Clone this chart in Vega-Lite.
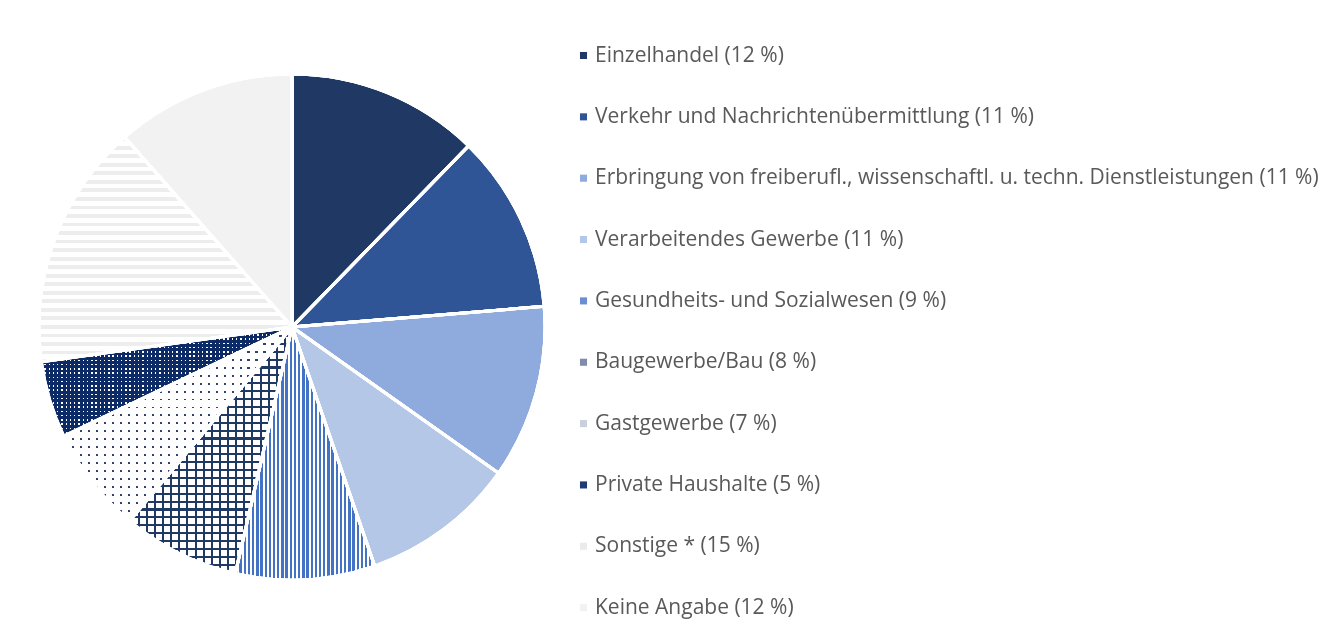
{
  "$schema": "https://vega.github.io/schema/vega-lite/v6.json",
  "width": 578,
  "height": 614,
  "padding": {"left": 3, "top": 20, "right": 0, "bottom": 0},
  "background": "white",
  "config": {"view": {"stroke": null}},
  "data": {
    "values": [
      {"rang": 1, "label": "Einzelhandel (12 %)", "anteil": 12.3},
      {"rang": 2, "label": "Verkehr und Nachrichtenübermittlung (11 %)", "anteil": 11.4},
      {"rang": 3, "label": "Erbringung von freiberufl., wissenschaftl. u. techn. Dienstleistungen (11 %)", "anteil": 11.1},
      {"rang": 4, "label": "Verarbeitendes Gewerbe (11 %)", "anteil": 9.9},
      {"rang": 5, "label": "Gesundheits- und Sozialwesen (9 %)", "anteil": 8.9},
      {"rang": 6, "label": "Baugewerbe/Bau (8 %)", "anteil": 7.5},
      {"rang": 7, "label": "Gastgewerbe (7 %)", "anteil": 6.8},
      {"rang": 8, "label": "Private Haushalte (5 %)", "anteil": 4.9},
      {"rang": 9, "label": "Sonstige * (15 %)", "anteil": 15.7},
      {"rang": 10, "label": "Keine Angabe (12 %)", "anteil": 11.5}
    ]
  },
  "layer": [
    {
      "mark": {"type": "arc", "outerRadius": 253, "stroke": "white", "strokeWidth": 3},
      "encoding": {
        "theta": {"field": "anteil", "type": "quantitative", "stack": true},
        "order": {"field": "rang", "type": "quantitative"},
        "color": {
          "field": "label",
          "type": "nominal",
          "scale": {
            "domain": [
              "Einzelhandel (12 %)",
              "Verkehr und Nachrichtenübermittlung (11 %)",
              "Erbringung von freiberufl., wissenschaftl. u. techn. Dienstleistungen (11 %)",
              "Verarbeitendes Gewerbe (11 %)",
              "Gesundheits- und Sozialwesen (9 %)",
              "Baugewerbe/Bau (8 %)",
              "Gastgewerbe (7 %)",
              "Private Haushalte (5 %)",
              "Sonstige * (15 %)",
              "Keine Angabe (12 %)"
            ],
            "range": ["#1F3864", "#2F5597", "#8FAADC", "#B4C7E7", "#6A8ED0", "#7F8DAA", "#C9D0DD", "#1F3B73", "#EBEBEB", "#F2F2F2"]
          },
          "legend": {
            "title": null,
            "orient": "none",
            "legendX": 570,
            "legendY": 25,
            "padding": 0,
            "symbolType": "square",
            "symbolSize": 50,
            "symbolStrokeWidth": 0,
            "labelFont": "Open Sans",
            "labelFontSize": 21,
            "labelColor": "#595959",
            "labelLimit": 900,
            "labelOffset": 1,
            "rowPadding": 39.35
          },
          "condition": [
            {
              "test": "datum.rang === 5",
              "value": {
                "gradient": "linear", "x1": 0, "y1": 0, "x2": 1, "y2": 0,
                "stops": [
                  {"offset": 0, "color": "#4472C4"}, {"offset": 0.017, "color": "#4472C4"}, {"offset": 0.017, "color": "#FFFFFF"}, {"offset": 0.03, "color": "#FFFFFF"},
                  {"offset": 0.03, "color": "#4472C4"}, {"offset": 0.047, "color": "#4472C4"}, {"offset": 0.047, "color": "#FFFFFF"}, {"offset": 0.06, "color": "#FFFFFF"},
                  {"offset": 0.06, "color": "#4472C4"}, {"offset": 0.077, "color": "#4472C4"}, {"offset": 0.077, "color": "#FFFFFF"}, {"offset": 0.09, "color": "#FFFFFF"},
                  {"offset": 0.09, "color": "#4472C4"}, {"offset": 0.107, "color": "#4472C4"}, {"offset": 0.107, "color": "#FFFFFF"}, {"offset": 0.12, "color": "#FFFFFF"},
                  {"offset": 0.12, "color": "#4472C4"}, {"offset": 0.137, "color": "#4472C4"}, {"offset": 0.137, "color": "#FFFFFF"}, {"offset": 0.15, "color": "#FFFFFF"},
                  {"offset": 0.15, "color": "#4472C4"}, {"offset": 0.167, "color": "#4472C4"}, {"offset": 0.167, "color": "#FFFFFF"}, {"offset": 0.18, "color": "#FFFFFF"},
                  {"offset": 0.18, "color": "#4472C4"}, {"offset": 0.197, "color": "#4472C4"}, {"offset": 0.197, "color": "#FFFFFF"}, {"offset": 0.21, "color": "#FFFFFF"},
                  {"offset": 0.21, "color": "#4472C4"}, {"offset": 0.227, "color": "#4472C4"}, {"offset": 0.227, "color": "#FFFFFF"}, {"offset": 0.24, "color": "#FFFFFF"},
                  {"offset": 0.24, "color": "#4472C4"}, {"offset": 0.257, "color": "#4472C4"}, {"offset": 0.257, "color": "#FFFFFF"}, {"offset": 0.27, "color": "#FFFFFF"},
                  {"offset": 0.27, "color": "#4472C4"}, {"offset": 0.287, "color": "#4472C4"}, {"offset": 0.287, "color": "#FFFFFF"}, {"offset": 0.30, "color": "#FFFFFF"},
                  {"offset": 0.30, "color": "#4472C4"}, {"offset": 0.317, "color": "#4472C4"}, {"offset": 0.317, "color": "#FFFFFF"}, {"offset": 0.33, "color": "#FFFFFF"},
                  {"offset": 0.33, "color": "#4472C4"}, {"offset": 0.347, "color": "#4472C4"}, {"offset": 0.347, "color": "#FFFFFF"}, {"offset": 0.36, "color": "#FFFFFF"},
                  {"offset": 0.36, "color": "#4472C4"}, {"offset": 0.377, "color": "#4472C4"}, {"offset": 0.377, "color": "#FFFFFF"}, {"offset": 0.39, "color": "#FFFFFF"},
                  {"offset": 0.39, "color": "#4472C4"}, {"offset": 0.407, "color": "#4472C4"}, {"offset": 0.407, "color": "#FFFFFF"}, {"offset": 0.42, "color": "#FFFFFF"},
                  {"offset": 0.42, "color": "#4472C4"}, {"offset": 0.437, "color": "#4472C4"}, {"offset": 0.437, "color": "#FFFFFF"}, {"offset": 0.45, "color": "#FFFFFF"},
                  {"offset": 0.45, "color": "#4472C4"}, {"offset": 0.467, "color": "#4472C4"}, {"offset": 0.467, "color": "#FFFFFF"}, {"offset": 0.48, "color": "#FFFFFF"},
                  {"offset": 0.48, "color": "#4472C4"}, {"offset": 0.497, "color": "#4472C4"}, {"offset": 0.497, "color": "#FFFFFF"}, {"offset": 0.51, "color": "#FFFFFF"},
                  {"offset": 0.51, "color": "#4472C4"}, {"offset": 0.527, "color": "#4472C4"}, {"offset": 0.527, "color": "#FFFFFF"}, {"offset": 0.54, "color": "#FFFFFF"},
                  {"offset": 0.54, "color": "#4472C4"}, {"offset": 0.557, "color": "#4472C4"}, {"offset": 0.557, "color": "#FFFFFF"}, {"offset": 0.57, "color": "#FFFFFF"},
                  {"offset": 0.57, "color": "#4472C4"}, {"offset": 0.587, "color": "#4472C4"}, {"offset": 0.587, "color": "#FFFFFF"}, {"offset": 0.60, "color": "#FFFFFF"},
                  {"offset": 0.60, "color": "#4472C4"}, {"offset": 0.617, "color": "#4472C4"}, {"offset": 0.617, "color": "#FFFFFF"}, {"offset": 0.63, "color": "#FFFFFF"},
                  {"offset": 0.63, "color": "#4472C4"}, {"offset": 0.647, "color": "#4472C4"}, {"offset": 0.647, "color": "#FFFFFF"}, {"offset": 0.66, "color": "#FFFFFF"},
                  {"offset": 0.66, "color": "#4472C4"}, {"offset": 0.677, "color": "#4472C4"}, {"offset": 0.677, "color": "#FFFFFF"}, {"offset": 0.69, "color": "#FFFFFF"},
                  {"offset": 0.69, "color": "#4472C4"}, {"offset": 0.707, "color": "#4472C4"}, {"offset": 0.707, "color": "#FFFFFF"}, {"offset": 0.72, "color": "#FFFFFF"},
                  {"offset": 0.72, "color": "#4472C4"}, {"offset": 0.737, "color": "#4472C4"}, {"offset": 0.737, "color": "#FFFFFF"}, {"offset": 0.75, "color": "#FFFFFF"},
                  {"offset": 0.75, "color": "#4472C4"}, {"offset": 0.767, "color": "#4472C4"}, {"offset": 0.767, "color": "#FFFFFF"}, {"offset": 0.78, "color": "#FFFFFF"},
                  {"offset": 0.78, "color": "#4472C4"}, {"offset": 0.797, "color": "#4472C4"}, {"offset": 0.797, "color": "#FFFFFF"}, {"offset": 0.81, "color": "#FFFFFF"},
                  {"offset": 0.81, "color": "#4472C4"}, {"offset": 0.827, "color": "#4472C4"}, {"offset": 0.827, "color": "#FFFFFF"}, {"offset": 0.84, "color": "#FFFFFF"},
                  {"offset": 0.84, "color": "#4472C4"}, {"offset": 0.857, "color": "#4472C4"}, {"offset": 0.857, "color": "#FFFFFF"}, {"offset": 0.87, "color": "#FFFFFF"},
                  {"offset": 0.87, "color": "#4472C4"}, {"offset": 0.887, "color": "#4472C4"}, {"offset": 0.887, "color": "#FFFFFF"}, {"offset": 0.90, "color": "#FFFFFF"},
                  {"offset": 0.90, "color": "#4472C4"}, {"offset": 0.917, "color": "#4472C4"}, {"offset": 0.917, "color": "#FFFFFF"}, {"offset": 0.93, "color": "#FFFFFF"},
                  {"offset": 0.93, "color": "#4472C4"}, {"offset": 0.947, "color": "#4472C4"}, {"offset": 0.947, "color": "#FFFFFF"}, {"offset": 0.96, "color": "#FFFFFF"},
                  {"offset": 0.96, "color": "#4472C4"}, {"offset": 0.977, "color": "#4472C4"}, {"offset": 0.977, "color": "#FFFFFF"}, {"offset": 0.99, "color": "#FFFFFF"},
                  {"offset": 0.99, "color": "#4472C4"}, {"offset": 1, "color": "#4472C4"}
                ]
              }
            },
            {
              "test": "datum.rang === 6",
              "value": {
                "gradient": "linear", "x1": 0, "y1": 0, "x2": 1, "y2": 0,
                "stops": [
                  {"offset": 0, "color": "#1F3864"}, {"offset": 0.013, "color": "#1F3864"}, {"offset": 0.013, "color": "#FFFFFF"}, {"offset": 0.05, "color": "#FFFFFF"},
                  {"offset": 0.05, "color": "#1F3864"}, {"offset": 0.063, "color": "#1F3864"}, {"offset": 0.063, "color": "#FFFFFF"}, {"offset": 0.10, "color": "#FFFFFF"},
                  {"offset": 0.10, "color": "#1F3864"}, {"offset": 0.113, "color": "#1F3864"}, {"offset": 0.113, "color": "#FFFFFF"}, {"offset": 0.15, "color": "#FFFFFF"},
                  {"offset": 0.15, "color": "#1F3864"}, {"offset": 0.163, "color": "#1F3864"}, {"offset": 0.163, "color": "#FFFFFF"}, {"offset": 0.20, "color": "#FFFFFF"},
                  {"offset": 0.20, "color": "#1F3864"}, {"offset": 0.213, "color": "#1F3864"}, {"offset": 0.213, "color": "#FFFFFF"}, {"offset": 0.25, "color": "#FFFFFF"},
                  {"offset": 0.25, "color": "#1F3864"}, {"offset": 0.263, "color": "#1F3864"}, {"offset": 0.263, "color": "#FFFFFF"}, {"offset": 0.30, "color": "#FFFFFF"},
                  {"offset": 0.30, "color": "#1F3864"}, {"offset": 0.313, "color": "#1F3864"}, {"offset": 0.313, "color": "#FFFFFF"}, {"offset": 0.35, "color": "#FFFFFF"},
                  {"offset": 0.35, "color": "#1F3864"}, {"offset": 0.363, "color": "#1F3864"}, {"offset": 0.363, "color": "#FFFFFF"}, {"offset": 0.40, "color": "#FFFFFF"},
                  {"offset": 0.40, "color": "#1F3864"}, {"offset": 0.413, "color": "#1F3864"}, {"offset": 0.413, "color": "#FFFFFF"}, {"offset": 0.45, "color": "#FFFFFF"},
                  {"offset": 0.45, "color": "#1F3864"}, {"offset": 0.463, "color": "#1F3864"}, {"offset": 0.463, "color": "#FFFFFF"}, {"offset": 0.50, "color": "#FFFFFF"},
                  {"offset": 0.50, "color": "#1F3864"}, {"offset": 0.513, "color": "#1F3864"}, {"offset": 0.513, "color": "#FFFFFF"}, {"offset": 0.55, "color": "#FFFFFF"},
                  {"offset": 0.55, "color": "#1F3864"}, {"offset": 0.563, "color": "#1F3864"}, {"offset": 0.563, "color": "#FFFFFF"}, {"offset": 0.60, "color": "#FFFFFF"},
                  {"offset": 0.60, "color": "#1F3864"}, {"offset": 0.613, "color": "#1F3864"}, {"offset": 0.613, "color": "#FFFFFF"}, {"offset": 0.65, "color": "#FFFFFF"},
                  {"offset": 0.65, "color": "#1F3864"}, {"offset": 0.663, "color": "#1F3864"}, {"offset": 0.663, "color": "#FFFFFF"}, {"offset": 0.70, "color": "#FFFFFF"},
                  {"offset": 0.70, "color": "#1F3864"}, {"offset": 0.713, "color": "#1F3864"}, {"offset": 0.713, "color": "#FFFFFF"}, {"offset": 0.75, "color": "#FFFFFF"},
                  {"offset": 0.75, "color": "#1F3864"}, {"offset": 0.763, "color": "#1F3864"}, {"offset": 0.763, "color": "#FFFFFF"}, {"offset": 0.80, "color": "#FFFFFF"},
                  {"offset": 0.80, "color": "#1F3864"}, {"offset": 0.813, "color": "#1F3864"}, {"offset": 0.813, "color": "#FFFFFF"}, {"offset": 0.85, "color": "#FFFFFF"},
                  {"offset": 0.85, "color": "#1F3864"}, {"offset": 0.863, "color": "#1F3864"}, {"offset": 0.863, "color": "#FFFFFF"}, {"offset": 0.90, "color": "#FFFFFF"},
                  {"offset": 0.90, "color": "#1F3864"}, {"offset": 0.913, "color": "#1F3864"}, {"offset": 0.913, "color": "#FFFFFF"}, {"offset": 0.95, "color": "#FFFFFF"},
                  {"offset": 0.95, "color": "#1F3864"}, {"offset": 0.963, "color": "#1F3864"}, {"offset": 0.963, "color": "#FFFFFF"}, {"offset": 1, "color": "#FFFFFF"}
                ]
              }
            },
            {
              "test": "datum.rang === 7",
              "value": {
                "gradient": "linear", "x1": 0, "y1": 0, "x2": 1, "y2": 0,
                "stops": [
                  {"offset": 0, "color": "#2F4272"}, {"offset": 0.009, "color": "#2F4272"}, {"offset": 0.009, "color": "#FFFFFF"}, {"offset": 0.035, "color": "#FFFFFF"},
                  {"offset": 0.035, "color": "#2F4272"}, {"offset": 0.044, "color": "#2F4272"}, {"offset": 0.044, "color": "#FFFFFF"}, {"offset": 0.07, "color": "#FFFFFF"},
                  {"offset": 0.07, "color": "#2F4272"}, {"offset": 0.079, "color": "#2F4272"}, {"offset": 0.079, "color": "#FFFFFF"}, {"offset": 0.105, "color": "#FFFFFF"},
                  {"offset": 0.105, "color": "#2F4272"}, {"offset": 0.114, "color": "#2F4272"}, {"offset": 0.114, "color": "#FFFFFF"}, {"offset": 0.14, "color": "#FFFFFF"},
                  {"offset": 0.14, "color": "#2F4272"}, {"offset": 0.149, "color": "#2F4272"}, {"offset": 0.149, "color": "#FFFFFF"}, {"offset": 0.175, "color": "#FFFFFF"},
                  {"offset": 0.175, "color": "#2F4272"}, {"offset": 0.184, "color": "#2F4272"}, {"offset": 0.184, "color": "#FFFFFF"}, {"offset": 0.21, "color": "#FFFFFF"},
                  {"offset": 0.21, "color": "#2F4272"}, {"offset": 0.219, "color": "#2F4272"}, {"offset": 0.219, "color": "#FFFFFF"}, {"offset": 0.245, "color": "#FFFFFF"},
                  {"offset": 0.245, "color": "#2F4272"}, {"offset": 0.254, "color": "#2F4272"}, {"offset": 0.254, "color": "#FFFFFF"}, {"offset": 0.28, "color": "#FFFFFF"},
                  {"offset": 0.28, "color": "#2F4272"}, {"offset": 0.289, "color": "#2F4272"}, {"offset": 0.289, "color": "#FFFFFF"}, {"offset": 0.315, "color": "#FFFFFF"},
                  {"offset": 0.315, "color": "#2F4272"}, {"offset": 0.324, "color": "#2F4272"}, {"offset": 0.324, "color": "#FFFFFF"}, {"offset": 0.35, "color": "#FFFFFF"},
                  {"offset": 0.35, "color": "#2F4272"}, {"offset": 0.359, "color": "#2F4272"}, {"offset": 0.359, "color": "#FFFFFF"}, {"offset": 0.385, "color": "#FFFFFF"},
                  {"offset": 0.385, "color": "#2F4272"}, {"offset": 0.394, "color": "#2F4272"}, {"offset": 0.394, "color": "#FFFFFF"}, {"offset": 0.42, "color": "#FFFFFF"},
                  {"offset": 0.42, "color": "#2F4272"}, {"offset": 0.429, "color": "#2F4272"}, {"offset": 0.429, "color": "#FFFFFF"}, {"offset": 0.455, "color": "#FFFFFF"},
                  {"offset": 0.455, "color": "#2F4272"}, {"offset": 0.464, "color": "#2F4272"}, {"offset": 0.464, "color": "#FFFFFF"}, {"offset": 0.49, "color": "#FFFFFF"},
                  {"offset": 0.49, "color": "#2F4272"}, {"offset": 0.499, "color": "#2F4272"}, {"offset": 0.499, "color": "#FFFFFF"}, {"offset": 0.525, "color": "#FFFFFF"},
                  {"offset": 0.525, "color": "#2F4272"}, {"offset": 0.534, "color": "#2F4272"}, {"offset": 0.534, "color": "#FFFFFF"}, {"offset": 0.56, "color": "#FFFFFF"},
                  {"offset": 0.56, "color": "#2F4272"}, {"offset": 0.569, "color": "#2F4272"}, {"offset": 0.569, "color": "#FFFFFF"}, {"offset": 0.595, "color": "#FFFFFF"},
                  {"offset": 0.595, "color": "#2F4272"}, {"offset": 0.604, "color": "#2F4272"}, {"offset": 0.604, "color": "#FFFFFF"}, {"offset": 0.63, "color": "#FFFFFF"},
                  {"offset": 0.63, "color": "#2F4272"}, {"offset": 0.639, "color": "#2F4272"}, {"offset": 0.639, "color": "#FFFFFF"}, {"offset": 0.665, "color": "#FFFFFF"},
                  {"offset": 0.665, "color": "#2F4272"}, {"offset": 0.674, "color": "#2F4272"}, {"offset": 0.674, "color": "#FFFFFF"}, {"offset": 0.70, "color": "#FFFFFF"},
                  {"offset": 0.70, "color": "#2F4272"}, {"offset": 0.709, "color": "#2F4272"}, {"offset": 0.709, "color": "#FFFFFF"}, {"offset": 0.735, "color": "#FFFFFF"},
                  {"offset": 0.735, "color": "#2F4272"}, {"offset": 0.744, "color": "#2F4272"}, {"offset": 0.744, "color": "#FFFFFF"}, {"offset": 0.77, "color": "#FFFFFF"},
                  {"offset": 0.77, "color": "#2F4272"}, {"offset": 0.779, "color": "#2F4272"}, {"offset": 0.779, "color": "#FFFFFF"}, {"offset": 0.805, "color": "#FFFFFF"},
                  {"offset": 0.805, "color": "#2F4272"}, {"offset": 0.814, "color": "#2F4272"}, {"offset": 0.814, "color": "#FFFFFF"}, {"offset": 0.84, "color": "#FFFFFF"},
                  {"offset": 0.84, "color": "#2F4272"}, {"offset": 0.849, "color": "#2F4272"}, {"offset": 0.849, "color": "#FFFFFF"}, {"offset": 0.875, "color": "#FFFFFF"},
                  {"offset": 0.875, "color": "#2F4272"}, {"offset": 0.884, "color": "#2F4272"}, {"offset": 0.884, "color": "#FFFFFF"}, {"offset": 0.91, "color": "#FFFFFF"},
                  {"offset": 0.91, "color": "#2F4272"}, {"offset": 0.919, "color": "#2F4272"}, {"offset": 0.919, "color": "#FFFFFF"}, {"offset": 0.945, "color": "#FFFFFF"},
                  {"offset": 0.945, "color": "#2F4272"}, {"offset": 0.954, "color": "#2F4272"}, {"offset": 0.954, "color": "#FFFFFF"}, {"offset": 0.98, "color": "#FFFFFF"},
                  {"offset": 0.98, "color": "#2F4272"}, {"offset": 0.989, "color": "#2F4272"}, {"offset": 0.989, "color": "#FFFFFF"}, {"offset": 1, "color": "#FFFFFF"}
                ]
              }
            },
            {
              "test": "datum.rang === 8",
              "value": {
                "gradient": "linear", "x1": 0, "y1": 0, "x2": 1, "y2": 0,
                "stops": [
                  {"offset": 0, "color": "#0C2A66"}, {"offset": 0.0115, "color": "#0C2A66"}, {"offset": 0.0115, "color": "#FFFFFF"}, {"offset": 0.017, "color": "#FFFFFF"},
                  {"offset": 0.017, "color": "#0C2A66"}, {"offset": 0.0285, "color": "#0C2A66"}, {"offset": 0.0285, "color": "#FFFFFF"}, {"offset": 0.034, "color": "#FFFFFF"},
                  {"offset": 0.034, "color": "#0C2A66"}, {"offset": 0.0455, "color": "#0C2A66"}, {"offset": 0.0455, "color": "#FFFFFF"}, {"offset": 0.051, "color": "#FFFFFF"},
                  {"offset": 0.051, "color": "#0C2A66"}, {"offset": 0.0625, "color": "#0C2A66"}, {"offset": 0.0625, "color": "#FFFFFF"}, {"offset": 0.068, "color": "#FFFFFF"},
                  {"offset": 0.068, "color": "#0C2A66"}, {"offset": 0.0795, "color": "#0C2A66"}, {"offset": 0.0795, "color": "#FFFFFF"}, {"offset": 0.085, "color": "#FFFFFF"},
                  {"offset": 0.085, "color": "#0C2A66"}, {"offset": 0.0965, "color": "#0C2A66"}, {"offset": 0.0965, "color": "#FFFFFF"}, {"offset": 0.102, "color": "#FFFFFF"},
                  {"offset": 0.102, "color": "#0C2A66"}, {"offset": 0.1135, "color": "#0C2A66"}, {"offset": 0.1135, "color": "#FFFFFF"}, {"offset": 0.119, "color": "#FFFFFF"},
                  {"offset": 0.119, "color": "#0C2A66"}, {"offset": 0.1305, "color": "#0C2A66"}, {"offset": 0.1305, "color": "#FFFFFF"}, {"offset": 0.136, "color": "#FFFFFF"},
                  {"offset": 0.136, "color": "#0C2A66"}, {"offset": 0.1475, "color": "#0C2A66"}, {"offset": 0.1475, "color": "#FFFFFF"}, {"offset": 0.153, "color": "#FFFFFF"},
                  {"offset": 0.153, "color": "#0C2A66"}, {"offset": 0.1645, "color": "#0C2A66"}, {"offset": 0.1645, "color": "#FFFFFF"}, {"offset": 0.17, "color": "#FFFFFF"},
                  {"offset": 0.17, "color": "#0C2A66"}, {"offset": 0.1815, "color": "#0C2A66"}, {"offset": 0.1815, "color": "#FFFFFF"}, {"offset": 0.187, "color": "#FFFFFF"},
                  {"offset": 0.187, "color": "#0C2A66"}, {"offset": 0.1985, "color": "#0C2A66"}, {"offset": 0.1985, "color": "#FFFFFF"}, {"offset": 0.204, "color": "#FFFFFF"},
                  {"offset": 0.204, "color": "#0C2A66"}, {"offset": 0.2155, "color": "#0C2A66"}, {"offset": 0.2155, "color": "#FFFFFF"}, {"offset": 0.221, "color": "#FFFFFF"},
                  {"offset": 0.221, "color": "#0C2A66"}, {"offset": 0.2325, "color": "#0C2A66"}, {"offset": 0.2325, "color": "#FFFFFF"}, {"offset": 0.238, "color": "#FFFFFF"},
                  {"offset": 0.238, "color": "#0C2A66"}, {"offset": 0.2495, "color": "#0C2A66"}, {"offset": 0.2495, "color": "#FFFFFF"}, {"offset": 0.255, "color": "#FFFFFF"},
                  {"offset": 0.255, "color": "#0C2A66"}, {"offset": 0.2665, "color": "#0C2A66"}, {"offset": 0.2665, "color": "#FFFFFF"}, {"offset": 0.272, "color": "#FFFFFF"},
                  {"offset": 0.272, "color": "#0C2A66"}, {"offset": 0.2835, "color": "#0C2A66"}, {"offset": 0.2835, "color": "#FFFFFF"}, {"offset": 0.289, "color": "#FFFFFF"},
                  {"offset": 0.289, "color": "#0C2A66"}, {"offset": 0.3005, "color": "#0C2A66"}, {"offset": 0.3005, "color": "#FFFFFF"}, {"offset": 0.306, "color": "#FFFFFF"},
                  {"offset": 0.306, "color": "#0C2A66"}, {"offset": 0.3175, "color": "#0C2A66"}, {"offset": 0.3175, "color": "#FFFFFF"}, {"offset": 0.323, "color": "#FFFFFF"},
                  {"offset": 0.323, "color": "#0C2A66"}, {"offset": 0.3345, "color": "#0C2A66"}, {"offset": 0.3345, "color": "#FFFFFF"}, {"offset": 0.34, "color": "#FFFFFF"},
                  {"offset": 0.34, "color": "#0C2A66"}, {"offset": 0.3515, "color": "#0C2A66"}, {"offset": 0.3515, "color": "#FFFFFF"}, {"offset": 0.357, "color": "#FFFFFF"},
                  {"offset": 0.357, "color": "#0C2A66"}, {"offset": 0.3685, "color": "#0C2A66"}, {"offset": 0.3685, "color": "#FFFFFF"}, {"offset": 0.374, "color": "#FFFFFF"},
                  {"offset": 0.374, "color": "#0C2A66"}, {"offset": 0.3855, "color": "#0C2A66"}, {"offset": 0.3855, "color": "#FFFFFF"}, {"offset": 0.391, "color": "#FFFFFF"},
                  {"offset": 0.391, "color": "#0C2A66"}, {"offset": 0.4025, "color": "#0C2A66"}, {"offset": 0.4025, "color": "#FFFFFF"}, {"offset": 0.408, "color": "#FFFFFF"},
                  {"offset": 0.408, "color": "#0C2A66"}, {"offset": 0.4195, "color": "#0C2A66"}, {"offset": 0.4195, "color": "#FFFFFF"}, {"offset": 0.425, "color": "#FFFFFF"},
                  {"offset": 0.425, "color": "#0C2A66"}, {"offset": 0.4365, "color": "#0C2A66"}, {"offset": 0.4365, "color": "#FFFFFF"}, {"offset": 0.442, "color": "#FFFFFF"},
                  {"offset": 0.442, "color": "#0C2A66"}, {"offset": 0.4535, "color": "#0C2A66"}, {"offset": 0.4535, "color": "#FFFFFF"}, {"offset": 0.459, "color": "#FFFFFF"},
                  {"offset": 0.459, "color": "#0C2A66"}, {"offset": 0.4705, "color": "#0C2A66"}, {"offset": 0.4705, "color": "#FFFFFF"}, {"offset": 0.476, "color": "#FFFFFF"},
                  {"offset": 0.476, "color": "#0C2A66"}, {"offset": 0.4875, "color": "#0C2A66"}, {"offset": 0.4875, "color": "#FFFFFF"}, {"offset": 0.493, "color": "#FFFFFF"},
                  {"offset": 0.493, "color": "#0C2A66"}, {"offset": 0.5045, "color": "#0C2A66"}, {"offset": 0.5045, "color": "#FFFFFF"}, {"offset": 0.51, "color": "#FFFFFF"},
                  {"offset": 0.51, "color": "#0C2A66"}, {"offset": 0.5215, "color": "#0C2A66"}, {"offset": 0.5215, "color": "#FFFFFF"}, {"offset": 0.527, "color": "#FFFFFF"},
                  {"offset": 0.527, "color": "#0C2A66"}, {"offset": 0.5385, "color": "#0C2A66"}, {"offset": 0.5385, "color": "#FFFFFF"}, {"offset": 0.544, "color": "#FFFFFF"},
                  {"offset": 0.544, "color": "#0C2A66"}, {"offset": 0.5555, "color": "#0C2A66"}, {"offset": 0.5555, "color": "#FFFFFF"}, {"offset": 0.561, "color": "#FFFFFF"},
                  {"offset": 0.561, "color": "#0C2A66"}, {"offset": 0.5725, "color": "#0C2A66"}, {"offset": 0.5725, "color": "#FFFFFF"}, {"offset": 0.578, "color": "#FFFFFF"},
                  {"offset": 0.578, "color": "#0C2A66"}, {"offset": 0.5895, "color": "#0C2A66"}, {"offset": 0.5895, "color": "#FFFFFF"}, {"offset": 0.595, "color": "#FFFFFF"},
                  {"offset": 0.595, "color": "#0C2A66"}, {"offset": 0.6065, "color": "#0C2A66"}, {"offset": 0.6065, "color": "#FFFFFF"}, {"offset": 0.612, "color": "#FFFFFF"},
                  {"offset": 0.612, "color": "#0C2A66"}, {"offset": 0.6235, "color": "#0C2A66"}, {"offset": 0.6235, "color": "#FFFFFF"}, {"offset": 0.629, "color": "#FFFFFF"},
                  {"offset": 0.629, "color": "#0C2A66"}, {"offset": 0.6405, "color": "#0C2A66"}, {"offset": 0.6405, "color": "#FFFFFF"}, {"offset": 0.646, "color": "#FFFFFF"},
                  {"offset": 0.646, "color": "#0C2A66"}, {"offset": 0.6575, "color": "#0C2A66"}, {"offset": 0.6575, "color": "#FFFFFF"}, {"offset": 0.663, "color": "#FFFFFF"},
                  {"offset": 0.663, "color": "#0C2A66"}, {"offset": 0.6745, "color": "#0C2A66"}, {"offset": 0.6745, "color": "#FFFFFF"}, {"offset": 0.68, "color": "#FFFFFF"},
                  {"offset": 0.68, "color": "#0C2A66"}, {"offset": 0.6915, "color": "#0C2A66"}, {"offset": 0.6915, "color": "#FFFFFF"}, {"offset": 0.697, "color": "#FFFFFF"},
                  {"offset": 0.697, "color": "#0C2A66"}, {"offset": 0.7085, "color": "#0C2A66"}, {"offset": 0.7085, "color": "#FFFFFF"}, {"offset": 0.714, "color": "#FFFFFF"},
                  {"offset": 0.714, "color": "#0C2A66"}, {"offset": 0.7255, "color": "#0C2A66"}, {"offset": 0.7255, "color": "#FFFFFF"}, {"offset": 0.731, "color": "#FFFFFF"},
                  {"offset": 0.731, "color": "#0C2A66"}, {"offset": 0.7425, "color": "#0C2A66"}, {"offset": 0.7425, "color": "#FFFFFF"}, {"offset": 0.748, "color": "#FFFFFF"},
                  {"offset": 0.748, "color": "#0C2A66"}, {"offset": 0.7595, "color": "#0C2A66"}, {"offset": 0.7595, "color": "#FFFFFF"}, {"offset": 0.765, "color": "#FFFFFF"},
                  {"offset": 0.765, "color": "#0C2A66"}, {"offset": 0.7765, "color": "#0C2A66"}, {"offset": 0.7765, "color": "#FFFFFF"}, {"offset": 0.782, "color": "#FFFFFF"},
                  {"offset": 0.782, "color": "#0C2A66"}, {"offset": 0.7935, "color": "#0C2A66"}, {"offset": 0.7935, "color": "#FFFFFF"}, {"offset": 0.799, "color": "#FFFFFF"},
                  {"offset": 0.799, "color": "#0C2A66"}, {"offset": 0.8105, "color": "#0C2A66"}, {"offset": 0.8105, "color": "#FFFFFF"}, {"offset": 0.816, "color": "#FFFFFF"},
                  {"offset": 0.816, "color": "#0C2A66"}, {"offset": 0.8275, "color": "#0C2A66"}, {"offset": 0.8275, "color": "#FFFFFF"}, {"offset": 0.833, "color": "#FFFFFF"},
                  {"offset": 0.833, "color": "#0C2A66"}, {"offset": 0.8445, "color": "#0C2A66"}, {"offset": 0.8445, "color": "#FFFFFF"}, {"offset": 0.85, "color": "#FFFFFF"},
                  {"offset": 0.85, "color": "#0C2A66"}, {"offset": 0.8615, "color": "#0C2A66"}, {"offset": 0.8615, "color": "#FFFFFF"}, {"offset": 0.867, "color": "#FFFFFF"},
                  {"offset": 0.867, "color": "#0C2A66"}, {"offset": 0.8785, "color": "#0C2A66"}, {"offset": 0.8785, "color": "#FFFFFF"}, {"offset": 0.884, "color": "#FFFFFF"},
                  {"offset": 0.884, "color": "#0C2A66"}, {"offset": 0.8955, "color": "#0C2A66"}, {"offset": 0.8955, "color": "#FFFFFF"}, {"offset": 0.901, "color": "#FFFFFF"},
                  {"offset": 0.901, "color": "#0C2A66"}, {"offset": 0.9125, "color": "#0C2A66"}, {"offset": 0.9125, "color": "#FFFFFF"}, {"offset": 0.918, "color": "#FFFFFF"},
                  {"offset": 0.918, "color": "#0C2A66"}, {"offset": 0.9295, "color": "#0C2A66"}, {"offset": 0.9295, "color": "#FFFFFF"}, {"offset": 0.935, "color": "#FFFFFF"},
                  {"offset": 0.935, "color": "#0C2A66"}, {"offset": 0.9465, "color": "#0C2A66"}, {"offset": 0.9465, "color": "#FFFFFF"}, {"offset": 0.952, "color": "#FFFFFF"},
                  {"offset": 0.952, "color": "#0C2A66"}, {"offset": 0.9635, "color": "#0C2A66"}, {"offset": 0.9635, "color": "#FFFFFF"}, {"offset": 0.969, "color": "#FFFFFF"},
                  {"offset": 0.969, "color": "#0C2A66"}, {"offset": 0.9805, "color": "#0C2A66"}, {"offset": 0.9805, "color": "#FFFFFF"}, {"offset": 0.986, "color": "#FFFFFF"},
                  {"offset": 0.986, "color": "#0C2A66"}, {"offset": 0.9975, "color": "#0C2A66"}, {"offset": 0.9975, "color": "#FFFFFF"}, {"offset": 1, "color": "#FFFFFF"}
                ]
              }
            },
            {
              "test": "datum.rang === 9",
              "value": {
                "gradient": "linear", "x1": 0, "y1": 0, "x2": 0, "y2": 1,
                "stops": [
                  {"offset": 0, "color": "#EDEDED"}, {"offset": 0.017, "color": "#EDEDED"}, {"offset": 0.017, "color": "#FFFFFF"}, {"offset": 0.038, "color": "#FFFFFF"},
                  {"offset": 0.038, "color": "#EDEDED"}, {"offset": 0.055, "color": "#EDEDED"}, {"offset": 0.055, "color": "#FFFFFF"}, {"offset": 0.076, "color": "#FFFFFF"},
                  {"offset": 0.076, "color": "#EDEDED"}, {"offset": 0.093, "color": "#EDEDED"}, {"offset": 0.093, "color": "#FFFFFF"}, {"offset": 0.114, "color": "#FFFFFF"},
                  {"offset": 0.114, "color": "#EDEDED"}, {"offset": 0.131, "color": "#EDEDED"}, {"offset": 0.131, "color": "#FFFFFF"}, {"offset": 0.152, "color": "#FFFFFF"},
                  {"offset": 0.152, "color": "#EDEDED"}, {"offset": 0.169, "color": "#EDEDED"}, {"offset": 0.169, "color": "#FFFFFF"}, {"offset": 0.19, "color": "#FFFFFF"},
                  {"offset": 0.19, "color": "#EDEDED"}, {"offset": 0.207, "color": "#EDEDED"}, {"offset": 0.207, "color": "#FFFFFF"}, {"offset": 0.228, "color": "#FFFFFF"},
                  {"offset": 0.228, "color": "#EDEDED"}, {"offset": 0.245, "color": "#EDEDED"}, {"offset": 0.245, "color": "#FFFFFF"}, {"offset": 0.266, "color": "#FFFFFF"},
                  {"offset": 0.266, "color": "#EDEDED"}, {"offset": 0.283, "color": "#EDEDED"}, {"offset": 0.283, "color": "#FFFFFF"}, {"offset": 0.304, "color": "#FFFFFF"},
                  {"offset": 0.304, "color": "#EDEDED"}, {"offset": 0.321, "color": "#EDEDED"}, {"offset": 0.321, "color": "#FFFFFF"}, {"offset": 0.342, "color": "#FFFFFF"},
                  {"offset": 0.342, "color": "#EDEDED"}, {"offset": 0.359, "color": "#EDEDED"}, {"offset": 0.359, "color": "#FFFFFF"}, {"offset": 0.38, "color": "#FFFFFF"},
                  {"offset": 0.38, "color": "#EDEDED"}, {"offset": 0.397, "color": "#EDEDED"}, {"offset": 0.397, "color": "#FFFFFF"}, {"offset": 0.418, "color": "#FFFFFF"},
                  {"offset": 0.418, "color": "#EDEDED"}, {"offset": 0.435, "color": "#EDEDED"}, {"offset": 0.435, "color": "#FFFFFF"}, {"offset": 0.456, "color": "#FFFFFF"},
                  {"offset": 0.456, "color": "#EDEDED"}, {"offset": 0.473, "color": "#EDEDED"}, {"offset": 0.473, "color": "#FFFFFF"}, {"offset": 0.494, "color": "#FFFFFF"},
                  {"offset": 0.494, "color": "#EDEDED"}, {"offset": 0.511, "color": "#EDEDED"}, {"offset": 0.511, "color": "#FFFFFF"}, {"offset": 0.532, "color": "#FFFFFF"},
                  {"offset": 0.532, "color": "#EDEDED"}, {"offset": 0.549, "color": "#EDEDED"}, {"offset": 0.549, "color": "#FFFFFF"}, {"offset": 0.57, "color": "#FFFFFF"},
                  {"offset": 0.57, "color": "#EDEDED"}, {"offset": 0.587, "color": "#EDEDED"}, {"offset": 0.587, "color": "#FFFFFF"}, {"offset": 0.608, "color": "#FFFFFF"},
                  {"offset": 0.608, "color": "#EDEDED"}, {"offset": 0.625, "color": "#EDEDED"}, {"offset": 0.625, "color": "#FFFFFF"}, {"offset": 0.646, "color": "#FFFFFF"},
                  {"offset": 0.646, "color": "#EDEDED"}, {"offset": 0.663, "color": "#EDEDED"}, {"offset": 0.663, "color": "#FFFFFF"}, {"offset": 0.684, "color": "#FFFFFF"},
                  {"offset": 0.684, "color": "#EDEDED"}, {"offset": 0.701, "color": "#EDEDED"}, {"offset": 0.701, "color": "#FFFFFF"}, {"offset": 0.722, "color": "#FFFFFF"},
                  {"offset": 0.722, "color": "#EDEDED"}, {"offset": 0.739, "color": "#EDEDED"}, {"offset": 0.739, "color": "#FFFFFF"}, {"offset": 0.76, "color": "#FFFFFF"},
                  {"offset": 0.76, "color": "#EDEDED"}, {"offset": 0.777, "color": "#EDEDED"}, {"offset": 0.777, "color": "#FFFFFF"}, {"offset": 0.798, "color": "#FFFFFF"},
                  {"offset": 0.798, "color": "#EDEDED"}, {"offset": 0.815, "color": "#EDEDED"}, {"offset": 0.815, "color": "#FFFFFF"}, {"offset": 0.836, "color": "#FFFFFF"},
                  {"offset": 0.836, "color": "#EDEDED"}, {"offset": 0.853, "color": "#EDEDED"}, {"offset": 0.853, "color": "#FFFFFF"}, {"offset": 0.874, "color": "#FFFFFF"},
                  {"offset": 0.874, "color": "#EDEDED"}, {"offset": 0.891, "color": "#EDEDED"}, {"offset": 0.891, "color": "#FFFFFF"}, {"offset": 0.912, "color": "#FFFFFF"},
                  {"offset": 0.912, "color": "#EDEDED"}, {"offset": 0.929, "color": "#EDEDED"}, {"offset": 0.929, "color": "#FFFFFF"}, {"offset": 0.95, "color": "#FFFFFF"},
                  {"offset": 0.95, "color": "#EDEDED"}, {"offset": 0.967, "color": "#EDEDED"}, {"offset": 0.967, "color": "#FFFFFF"}, {"offset": 0.988, "color": "#FFFFFF"},
                  {"offset": 0.988, "color": "#EDEDED"}, {"offset": 1, "color": "#EDEDED"}
                ]
              }
            }
          ]
        }
      }
    },
    {
      "mark": {"type": "arc", "outerRadius": 253, "stroke": "white", "strokeWidth": 3},
      "encoding": {
        "theta": {"field": "anteil", "type": "quantitative", "stack": true},
        "order": {"field": "rang", "type": "quantitative"},
        "color": {
          "value": "transparent",
          "condition": [
            {
              "test": "datum.rang === 6",
              "value": {
                "gradient": "linear", "x1": 0, "y1": 0, "x2": 0, "y2": 1,
                "stops": [
                  {"offset": 0, "color": "#1F3864"}, {"offset": 0.0085, "color": "#1F3864"}, {"offset": 0.0085, "color": "rgba(255,255,255,0)"}, {"offset": 0.032, "color": "rgba(255,255,255,0)"},
                  {"offset": 0.032, "color": "#1F3864"}, {"offset": 0.0405, "color": "#1F3864"}, {"offset": 0.0405, "color": "rgba(255,255,255,0)"}, {"offset": 0.064, "color": "rgba(255,255,255,0)"},
                  {"offset": 0.064, "color": "#1F3864"}, {"offset": 0.0725, "color": "#1F3864"}, {"offset": 0.0725, "color": "rgba(255,255,255,0)"}, {"offset": 0.096, "color": "rgba(255,255,255,0)"},
                  {"offset": 0.096, "color": "#1F3864"}, {"offset": 0.1045, "color": "#1F3864"}, {"offset": 0.1045, "color": "rgba(255,255,255,0)"}, {"offset": 0.128, "color": "rgba(255,255,255,0)"},
                  {"offset": 0.128, "color": "#1F3864"}, {"offset": 0.1365, "color": "#1F3864"}, {"offset": 0.1365, "color": "rgba(255,255,255,0)"}, {"offset": 0.16, "color": "rgba(255,255,255,0)"},
                  {"offset": 0.16, "color": "#1F3864"}, {"offset": 0.1685, "color": "#1F3864"}, {"offset": 0.1685, "color": "rgba(255,255,255,0)"}, {"offset": 0.192, "color": "rgba(255,255,255,0)"},
                  {"offset": 0.192, "color": "#1F3864"}, {"offset": 0.2005, "color": "#1F3864"}, {"offset": 0.2005, "color": "rgba(255,255,255,0)"}, {"offset": 0.224, "color": "rgba(255,255,255,0)"},
                  {"offset": 0.224, "color": "#1F3864"}, {"offset": 0.2325, "color": "#1F3864"}, {"offset": 0.2325, "color": "rgba(255,255,255,0)"}, {"offset": 0.256, "color": "rgba(255,255,255,0)"},
                  {"offset": 0.256, "color": "#1F3864"}, {"offset": 0.2645, "color": "#1F3864"}, {"offset": 0.2645, "color": "rgba(255,255,255,0)"}, {"offset": 0.288, "color": "rgba(255,255,255,0)"},
                  {"offset": 0.288, "color": "#1F3864"}, {"offset": 0.2965, "color": "#1F3864"}, {"offset": 0.2965, "color": "rgba(255,255,255,0)"}, {"offset": 0.32, "color": "rgba(255,255,255,0)"},
                  {"offset": 0.32, "color": "#1F3864"}, {"offset": 0.3285, "color": "#1F3864"}, {"offset": 0.3285, "color": "rgba(255,255,255,0)"}, {"offset": 0.352, "color": "rgba(255,255,255,0)"},
                  {"offset": 0.352, "color": "#1F3864"}, {"offset": 0.3605, "color": "#1F3864"}, {"offset": 0.3605, "color": "rgba(255,255,255,0)"}, {"offset": 0.384, "color": "rgba(255,255,255,0)"},
                  {"offset": 0.384, "color": "#1F3864"}, {"offset": 0.3925, "color": "#1F3864"}, {"offset": 0.3925, "color": "rgba(255,255,255,0)"}, {"offset": 0.416, "color": "rgba(255,255,255,0)"},
                  {"offset": 0.416, "color": "#1F3864"}, {"offset": 0.4245, "color": "#1F3864"}, {"offset": 0.4245, "color": "rgba(255,255,255,0)"}, {"offset": 0.448, "color": "rgba(255,255,255,0)"},
                  {"offset": 0.448, "color": "#1F3864"}, {"offset": 0.4565, "color": "#1F3864"}, {"offset": 0.4565, "color": "rgba(255,255,255,0)"}, {"offset": 0.48, "color": "rgba(255,255,255,0)"},
                  {"offset": 0.48, "color": "#1F3864"}, {"offset": 0.4885, "color": "#1F3864"}, {"offset": 0.4885, "color": "rgba(255,255,255,0)"}, {"offset": 0.512, "color": "rgba(255,255,255,0)"},
                  {"offset": 0.512, "color": "#1F3864"}, {"offset": 0.5205, "color": "#1F3864"}, {"offset": 0.5205, "color": "rgba(255,255,255,0)"}, {"offset": 0.544, "color": "rgba(255,255,255,0)"},
                  {"offset": 0.544, "color": "#1F3864"}, {"offset": 0.5525, "color": "#1F3864"}, {"offset": 0.5525, "color": "rgba(255,255,255,0)"}, {"offset": 0.576, "color": "rgba(255,255,255,0)"},
                  {"offset": 0.576, "color": "#1F3864"}, {"offset": 0.5845, "color": "#1F3864"}, {"offset": 0.5845, "color": "rgba(255,255,255,0)"}, {"offset": 0.608, "color": "rgba(255,255,255,0)"},
                  {"offset": 0.608, "color": "#1F3864"}, {"offset": 0.6165, "color": "#1F3864"}, {"offset": 0.6165, "color": "rgba(255,255,255,0)"}, {"offset": 0.64, "color": "rgba(255,255,255,0)"},
                  {"offset": 0.64, "color": "#1F3864"}, {"offset": 0.6485, "color": "#1F3864"}, {"offset": 0.6485, "color": "rgba(255,255,255,0)"}, {"offset": 0.672, "color": "rgba(255,255,255,0)"},
                  {"offset": 0.672, "color": "#1F3864"}, {"offset": 0.6805, "color": "#1F3864"}, {"offset": 0.6805, "color": "rgba(255,255,255,0)"}, {"offset": 0.704, "color": "rgba(255,255,255,0)"},
                  {"offset": 0.704, "color": "#1F3864"}, {"offset": 0.7125, "color": "#1F3864"}, {"offset": 0.7125, "color": "rgba(255,255,255,0)"}, {"offset": 0.736, "color": "rgba(255,255,255,0)"},
                  {"offset": 0.736, "color": "#1F3864"}, {"offset": 0.7445, "color": "#1F3864"}, {"offset": 0.7445, "color": "rgba(255,255,255,0)"}, {"offset": 0.768, "color": "rgba(255,255,255,0)"},
                  {"offset": 0.768, "color": "#1F3864"}, {"offset": 0.7765, "color": "#1F3864"}, {"offset": 0.7765, "color": "rgba(255,255,255,0)"}, {"offset": 0.8, "color": "rgba(255,255,255,0)"},
                  {"offset": 0.8, "color": "#1F3864"}, {"offset": 0.8085, "color": "#1F3864"}, {"offset": 0.8085, "color": "rgba(255,255,255,0)"}, {"offset": 0.832, "color": "rgba(255,255,255,0)"},
                  {"offset": 0.832, "color": "#1F3864"}, {"offset": 0.8405, "color": "#1F3864"}, {"offset": 0.8405, "color": "rgba(255,255,255,0)"}, {"offset": 0.864, "color": "rgba(255,255,255,0)"},
                  {"offset": 0.864, "color": "#1F3864"}, {"offset": 0.8725, "color": "#1F3864"}, {"offset": 0.8725, "color": "rgba(255,255,255,0)"}, {"offset": 0.896, "color": "rgba(255,255,255,0)"},
                  {"offset": 0.896, "color": "#1F3864"}, {"offset": 0.9045, "color": "#1F3864"}, {"offset": 0.9045, "color": "rgba(255,255,255,0)"}, {"offset": 0.928, "color": "rgba(255,255,255,0)"},
                  {"offset": 0.928, "color": "#1F3864"}, {"offset": 0.9365, "color": "#1F3864"}, {"offset": 0.9365, "color": "rgba(255,255,255,0)"}, {"offset": 0.96, "color": "rgba(255,255,255,0)"},
                  {"offset": 0.96, "color": "#1F3864"}, {"offset": 0.9685, "color": "#1F3864"}, {"offset": 0.9685, "color": "rgba(255,255,255,0)"}, {"offset": 0.992, "color": "rgba(255,255,255,0)"},
                  {"offset": 0.992, "color": "#1F3864"}, {"offset": 1, "color": "#1F3864"}
                ]
              }
            },
            {
              "test": "datum.rang === 8",
              "value": {
                "gradient": "linear", "x1": 0, "y1": 0, "x2": 0, "y2": 1,
                "stops": [
                  {"offset": 0, "color": "#0C2A66"}, {"offset": 0.026, "color": "#0C2A66"}, {"offset": 0.026, "color": "rgba(255,255,255,0)"}, {"offset": 0.039, "color": "rgba(255,255,255,0)"},
                  {"offset": 0.039, "color": "#0C2A66"}, {"offset": 0.065, "color": "#0C2A66"}, {"offset": 0.065, "color": "rgba(255,255,255,0)"}, {"offset": 0.078, "color": "rgba(255,255,255,0)"},
                  {"offset": 0.078, "color": "#0C2A66"}, {"offset": 0.104, "color": "#0C2A66"}, {"offset": 0.104, "color": "rgba(255,255,255,0)"}, {"offset": 0.117, "color": "rgba(255,255,255,0)"},
                  {"offset": 0.117, "color": "#0C2A66"}, {"offset": 0.143, "color": "#0C2A66"}, {"offset": 0.143, "color": "rgba(255,255,255,0)"}, {"offset": 0.156, "color": "rgba(255,255,255,0)"},
                  {"offset": 0.156, "color": "#0C2A66"}, {"offset": 0.182, "color": "#0C2A66"}, {"offset": 0.182, "color": "rgba(255,255,255,0)"}, {"offset": 0.195, "color": "rgba(255,255,255,0)"},
                  {"offset": 0.195, "color": "#0C2A66"}, {"offset": 0.221, "color": "#0C2A66"}, {"offset": 0.221, "color": "rgba(255,255,255,0)"}, {"offset": 0.234, "color": "rgba(255,255,255,0)"},
                  {"offset": 0.234, "color": "#0C2A66"}, {"offset": 0.26, "color": "#0C2A66"}, {"offset": 0.26, "color": "rgba(255,255,255,0)"}, {"offset": 0.273, "color": "rgba(255,255,255,0)"},
                  {"offset": 0.273, "color": "#0C2A66"}, {"offset": 0.299, "color": "#0C2A66"}, {"offset": 0.299, "color": "rgba(255,255,255,0)"}, {"offset": 0.312, "color": "rgba(255,255,255,0)"},
                  {"offset": 0.312, "color": "#0C2A66"}, {"offset": 0.338, "color": "#0C2A66"}, {"offset": 0.338, "color": "rgba(255,255,255,0)"}, {"offset": 0.351, "color": "rgba(255,255,255,0)"},
                  {"offset": 0.351, "color": "#0C2A66"}, {"offset": 0.377, "color": "#0C2A66"}, {"offset": 0.377, "color": "rgba(255,255,255,0)"}, {"offset": 0.39, "color": "rgba(255,255,255,0)"},
                  {"offset": 0.39, "color": "#0C2A66"}, {"offset": 0.416, "color": "#0C2A66"}, {"offset": 0.416, "color": "rgba(255,255,255,0)"}, {"offset": 0.429, "color": "rgba(255,255,255,0)"},
                  {"offset": 0.429, "color": "#0C2A66"}, {"offset": 0.455, "color": "#0C2A66"}, {"offset": 0.455, "color": "rgba(255,255,255,0)"}, {"offset": 0.468, "color": "rgba(255,255,255,0)"},
                  {"offset": 0.468, "color": "#0C2A66"}, {"offset": 0.494, "color": "#0C2A66"}, {"offset": 0.494, "color": "rgba(255,255,255,0)"}, {"offset": 0.507, "color": "rgba(255,255,255,0)"},
                  {"offset": 0.507, "color": "#0C2A66"}, {"offset": 0.533, "color": "#0C2A66"}, {"offset": 0.533, "color": "rgba(255,255,255,0)"}, {"offset": 0.546, "color": "rgba(255,255,255,0)"},
                  {"offset": 0.546, "color": "#0C2A66"}, {"offset": 0.572, "color": "#0C2A66"}, {"offset": 0.572, "color": "rgba(255,255,255,0)"}, {"offset": 0.585, "color": "rgba(255,255,255,0)"},
                  {"offset": 0.585, "color": "#0C2A66"}, {"offset": 0.611, "color": "#0C2A66"}, {"offset": 0.611, "color": "rgba(255,255,255,0)"}, {"offset": 0.624, "color": "rgba(255,255,255,0)"},
                  {"offset": 0.624, "color": "#0C2A66"}, {"offset": 0.65, "color": "#0C2A66"}, {"offset": 0.65, "color": "rgba(255,255,255,0)"}, {"offset": 0.663, "color": "rgba(255,255,255,0)"},
                  {"offset": 0.663, "color": "#0C2A66"}, {"offset": 0.689, "color": "#0C2A66"}, {"offset": 0.689, "color": "rgba(255,255,255,0)"}, {"offset": 0.702, "color": "rgba(255,255,255,0)"},
                  {"offset": 0.702, "color": "#0C2A66"}, {"offset": 0.728, "color": "#0C2A66"}, {"offset": 0.728, "color": "rgba(255,255,255,0)"}, {"offset": 0.741, "color": "rgba(255,255,255,0)"},
                  {"offset": 0.741, "color": "#0C2A66"}, {"offset": 0.767, "color": "#0C2A66"}, {"offset": 0.767, "color": "rgba(255,255,255,0)"}, {"offset": 0.78, "color": "rgba(255,255,255,0)"},
                  {"offset": 0.78, "color": "#0C2A66"}, {"offset": 0.806, "color": "#0C2A66"}, {"offset": 0.806, "color": "rgba(255,255,255,0)"}, {"offset": 0.819, "color": "rgba(255,255,255,0)"},
                  {"offset": 0.819, "color": "#0C2A66"}, {"offset": 0.845, "color": "#0C2A66"}, {"offset": 0.845, "color": "rgba(255,255,255,0)"}, {"offset": 0.858, "color": "rgba(255,255,255,0)"},
                  {"offset": 0.858, "color": "#0C2A66"}, {"offset": 0.884, "color": "#0C2A66"}, {"offset": 0.884, "color": "rgba(255,255,255,0)"}, {"offset": 0.897, "color": "rgba(255,255,255,0)"},
                  {"offset": 0.897, "color": "#0C2A66"}, {"offset": 0.923, "color": "#0C2A66"}, {"offset": 0.923, "color": "rgba(255,255,255,0)"}, {"offset": 0.936, "color": "rgba(255,255,255,0)"},
                  {"offset": 0.936, "color": "#0C2A66"}, {"offset": 0.962, "color": "#0C2A66"}, {"offset": 0.962, "color": "rgba(255,255,255,0)"}, {"offset": 0.975, "color": "rgba(255,255,255,0)"},
                  {"offset": 0.975, "color": "#0C2A66"}, {"offset": 1, "color": "#0C2A66"}
                ]
              }
            }
          ]
        }
      }
    },
    {
      "mark": {"type": "arc", "outerRadius": 253, "stroke": "white", "strokeWidth": 3, "blend": "lighten"},
      "encoding": {
        "theta": {"field": "anteil", "type": "quantitative", "stack": true},
        "order": {"field": "rang", "type": "quantitative"},
        "color": {
          "value": "transparent",
          "condition": {
            "test": "datum.rang === 7",
            "value": {
              "gradient": "linear", "x1": 0, "y1": 0, "x2": 0, "y2": 1,
              "stops": [
                {"offset": 0, "color": "#2F4272"}, {"offset": 0.01, "color": "#2F4272"}, {"offset": 0.01, "color": "#FFFFFF"}, {"offset": 0.041, "color": "#FFFFFF"},
                {"offset": 0.041, "color": "#2F4272"}, {"offset": 0.051, "color": "#2F4272"}, {"offset": 0.051, "color": "#FFFFFF"}, {"offset": 0.082, "color": "#FFFFFF"},
                {"offset": 0.082, "color": "#2F4272"}, {"offset": 0.092, "color": "#2F4272"}, {"offset": 0.092, "color": "#FFFFFF"}, {"offset": 0.123, "color": "#FFFFFF"},
                {"offset": 0.123, "color": "#2F4272"}, {"offset": 0.133, "color": "#2F4272"}, {"offset": 0.133, "color": "#FFFFFF"}, {"offset": 0.164, "color": "#FFFFFF"},
                {"offset": 0.164, "color": "#2F4272"}, {"offset": 0.174, "color": "#2F4272"}, {"offset": 0.174, "color": "#FFFFFF"}, {"offset": 0.205, "color": "#FFFFFF"},
                {"offset": 0.205, "color": "#2F4272"}, {"offset": 0.215, "color": "#2F4272"}, {"offset": 0.215, "color": "#FFFFFF"}, {"offset": 0.246, "color": "#FFFFFF"},
                {"offset": 0.246, "color": "#2F4272"}, {"offset": 0.256, "color": "#2F4272"}, {"offset": 0.256, "color": "#FFFFFF"}, {"offset": 0.287, "color": "#FFFFFF"},
                {"offset": 0.287, "color": "#2F4272"}, {"offset": 0.297, "color": "#2F4272"}, {"offset": 0.297, "color": "#FFFFFF"}, {"offset": 0.328, "color": "#FFFFFF"},
                {"offset": 0.328, "color": "#2F4272"}, {"offset": 0.338, "color": "#2F4272"}, {"offset": 0.338, "color": "#FFFFFF"}, {"offset": 0.369, "color": "#FFFFFF"},
                {"offset": 0.369, "color": "#2F4272"}, {"offset": 0.379, "color": "#2F4272"}, {"offset": 0.379, "color": "#FFFFFF"}, {"offset": 0.41, "color": "#FFFFFF"},
                {"offset": 0.41, "color": "#2F4272"}, {"offset": 0.42, "color": "#2F4272"}, {"offset": 0.42, "color": "#FFFFFF"}, {"offset": 0.451, "color": "#FFFFFF"},
                {"offset": 0.451, "color": "#2F4272"}, {"offset": 0.461, "color": "#2F4272"}, {"offset": 0.461, "color": "#FFFFFF"}, {"offset": 0.492, "color": "#FFFFFF"},
                {"offset": 0.492, "color": "#2F4272"}, {"offset": 0.502, "color": "#2F4272"}, {"offset": 0.502, "color": "#FFFFFF"}, {"offset": 0.533, "color": "#FFFFFF"},
                {"offset": 0.533, "color": "#2F4272"}, {"offset": 0.543, "color": "#2F4272"}, {"offset": 0.543, "color": "#FFFFFF"}, {"offset": 0.574, "color": "#FFFFFF"},
                {"offset": 0.574, "color": "#2F4272"}, {"offset": 0.584, "color": "#2F4272"}, {"offset": 0.584, "color": "#FFFFFF"}, {"offset": 0.615, "color": "#FFFFFF"},
                {"offset": 0.615, "color": "#2F4272"}, {"offset": 0.625, "color": "#2F4272"}, {"offset": 0.625, "color": "#FFFFFF"}, {"offset": 0.656, "color": "#FFFFFF"},
                {"offset": 0.656, "color": "#2F4272"}, {"offset": 0.666, "color": "#2F4272"}, {"offset": 0.666, "color": "#FFFFFF"}, {"offset": 0.697, "color": "#FFFFFF"},
                {"offset": 0.697, "color": "#2F4272"}, {"offset": 0.707, "color": "#2F4272"}, {"offset": 0.707, "color": "#FFFFFF"}, {"offset": 0.738, "color": "#FFFFFF"},
                {"offset": 0.738, "color": "#2F4272"}, {"offset": 0.748, "color": "#2F4272"}, {"offset": 0.748, "color": "#FFFFFF"}, {"offset": 0.779, "color": "#FFFFFF"},
                {"offset": 0.779, "color": "#2F4272"}, {"offset": 0.789, "color": "#2F4272"}, {"offset": 0.789, "color": "#FFFFFF"}, {"offset": 0.82, "color": "#FFFFFF"},
                {"offset": 0.82, "color": "#2F4272"}, {"offset": 0.83, "color": "#2F4272"}, {"offset": 0.83, "color": "#FFFFFF"}, {"offset": 0.861, "color": "#FFFFFF"},
                {"offset": 0.861, "color": "#2F4272"}, {"offset": 0.871, "color": "#2F4272"}, {"offset": 0.871, "color": "#FFFFFF"}, {"offset": 0.902, "color": "#FFFFFF"},
                {"offset": 0.902, "color": "#2F4272"}, {"offset": 0.912, "color": "#2F4272"}, {"offset": 0.912, "color": "#FFFFFF"}, {"offset": 0.943, "color": "#FFFFFF"},
                {"offset": 0.943, "color": "#2F4272"}, {"offset": 0.953, "color": "#2F4272"}, {"offset": 0.953, "color": "#FFFFFF"}, {"offset": 0.984, "color": "#FFFFFF"},
                {"offset": 0.984, "color": "#2F4272"}, {"offset": 0.994, "color": "#2F4272"}, {"offset": 0.994, "color": "#FFFFFF"}, {"offset": 1, "color": "#FFFFFF"}
              ]
            }
          }
        }
      }
    }
  ]
}
